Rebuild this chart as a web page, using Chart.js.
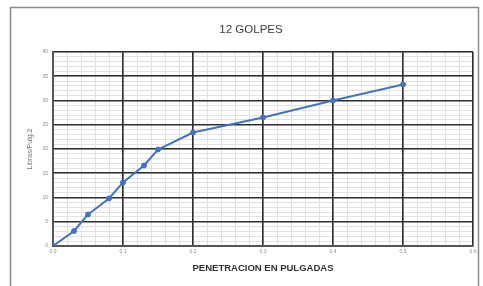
<!DOCTYPE html>
<html>
<head>
<meta charset="utf-8">
<script src="https://cdn.jsdelivr.net/npm/chart.js@4.4.0/dist/chart.umd.min.js"></script>
<style>
  html, body { margin: 0; padding: 0; background: #fff; }
  #wrap { width: 483px; height: 286px; position: relative; }
</style>
</head>
<body>
<div id="wrap"><canvas id="cbr" width="483" height="286"></canvas></div>
<script>
// 12 golpes - penetracion vs carga
let penetracion = [0, 0.03, 0.05, 0.08, 0.10, 0.13, 0.15, 0.20, 0.30, 0.40, 0.50];
let carga = [0, 3.1, 6.5, 9.8, 13.1, 16.6, 19.9, 23.4, 26.5, 30.0, 33.3];
let xTicks = ['0.0', '0.1', '0.2', '0.3', '0.4', '0.5', '0.6'];
let yTicks = ['0', '5', '10', '15', '20', '25', '30', '35', '40'];
let titulo = '12 GOLPES';

let puntos = penetracion.map((p, i) => ({ x: p, y: carga[i] }));

// marco exterior y titulo
const frame = {
    id: 'frame',
    beforeDraw(chart) {
        const c = chart.ctx;
        c.save();
        c.strokeStyle = '#8c8c8c';
        c.lineWidth = 1.5;
        c.strokeRect(10.5, 7.5, 468, 300);
        c.fillStyle = '#404040';
        c.font = '11.5px "Liberation Sans"';
        c.textAlign = 'center';
        c.textBaseline = 'middle';
        c.fillText(titulo, 251, 30);
        c.restore();
    }
};

// rejilla menor (debajo de la mayor)
const minorX = {
    type: 'linear', position: 'bottom', min: 0, max: 0.6, z: -1,
    afterFit: (s) => { s.height = 0; },
    afterBuildTicks: (s) => {
        let t = [];
        for (let i = 0; i <= 30; i++) t.push({ value: i * 0.02 });
        s.ticks = t;
    },
    ticks: { display: false },
    grid: { drawTicks: false, color: '#e2e2e2', lineWidth: 1 },
    border: { display: false }
};
const minorY = {
    type: 'linear', position: 'left', min: 0, max: 40, z: -1,
    afterFit: (s) => { s.width = 0; },
    ticks: { display: false, stepSize: 1 },
    grid: { drawTicks: false, color: '#e2e2e2', lineWidth: 1 },
    border: { display: false }
};

let ctx = document.getElementById('cbr').getContext('2d');
let myChart = new Chart(ctx, {
    type: 'line',
    data: {
        datasets: [{
            data: puntos,
            borderColor: '#4472c4',
            backgroundColor: '#4472c4',
            borderWidth: 2,
            pointRadius: 2.5,
            pointBorderWidth: 1,
            pointHoverRadius: 2.5,
            tension: 0
        }]
    },
    options: {
        responsive: false,
        animation: false,
        layout: { padding: { left: 22, right: 10, top: 52, bottom: 12 } },
        plugins: {
            legend: { display: false },
            tooltip: { enabled: false },
            title: { display: false }
        },
        scales: {
            xMinor: minorX,
            yMinor: minorY,
            x: {
                type: 'linear',
                position: 'bottom',
                min: 0,
                max: 0.6,
                afterFit: (s) => { s.height = 28; },
                afterBuildTicks: (s) => {
                    s.ticks = xTicks.map((l, i) => ({ value: i / 10 }));
                },
                ticks: {
                    autoSkip: false,
                    maxRotation: 0,
                    color: '#8a8a8a',
                    font: { family: 'Liberation Sans', size: 5 },
                    padding: 3,
                    callback: (v, i) => xTicks[i]
                },
                grid: { drawTicks: false, color: '#2e2e2e', lineWidth: 1.6 },
                border: { color: '#555555', width: 2 },
                title: {
                    display: true,
                    text: 'PENETRACION EN PULGADAS',
                    color: '#333333',
                    font: { family: 'Liberation Sans', size: 9.5, weight: 'bold' },
                    padding: { top: 4, bottom: 0 }
                }
            },
            y: {
                position: 'left',
                min: 0,
                max: 40,
                afterFit: (s) => { s.width = 31; },
                ticks: {
                    stepSize: 5,
                    autoSkip: false,
                    color: '#8a8a8a',
                    font: { family: 'Liberation Sans', size: 5 },
                    padding: 5,
                    callback: (v) => yTicks[v / 5]
                },
                grid: { drawTicks: false, color: '#2e2e2e', lineWidth: 1.6 },
                border: { color: '#555555', width: 2 },
                title: {
                    display: true,
                    text: 'Libras/Pulg.2',
                    color: '#707070',
                    font: { family: 'Liberation Sans', size: 7 },
                    padding: { top: 4, bottom: 0 }
                }
            }
        }
    },
    plugins: [frame]
});
</script>
</body>
</html>
